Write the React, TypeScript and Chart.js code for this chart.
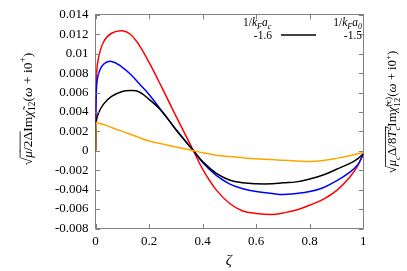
import React, { useEffect, useRef } from "react";
import { Chart, registerables } from "chart.js";

Chart.register(...registerables);

const ZETA = [0, 0.003, 0.01, 0.03, 0.06, 0.1, 0.13, 0.16, 0.2, 0.25, 0.3, 0.366, 0.4, 0.45, 0.5, 0.55, 0.6, 0.66, 0.7, 0.75, 0.8, 0.85, 0.9, 0.95, 0.98, 1];
const RED = [0, 0.0072, 0.0094, 0.0112, 0.0121, 0.01235, 0.012, 0.011, 0.0091, 0.0064, 0.0036, 0, -0.0019, -0.004, -0.0054, -0.0062, -0.00645, -0.00655, -0.0064, -0.0061, -0.0056, -0.005, -0.0041, -0.0027, -0.0015, -0.0003];
const BLUE = [0, 0.006, 0.0078, 0.0089, 0.0092, 0.0086, 0.0079, 0.007, 0.0058, 0.004, 0.0022, 0, -0.0012, -0.0025, -0.0034, -0.0039, -0.0042, -0.0044, -0.0045, -0.0044, -0.0042, -0.0038, -0.0031, -0.0022, -0.0014, -0.0003];
const BLACK = [0, 0.003, 0.0038, 0.0048, 0.0056, 0.0061, 0.0062, 0.0061, 0.0053, 0.004, 0.0022, 0, -0.0011, -0.0023, -0.003, -0.0033, -0.0034, -0.0034, -0.0033, -0.0032, -0.0029, -0.0025, -0.0019, -0.0013, -0.0008, -0.0003];
const ORANGE = [0, 0.0029, 0.00285, 0.0027, 0.0024, 0.002, 0.0017, 0.0014, 0.001, 0.0007, 0.0004, 0, -0.0002, -0.00045, -0.0006, -0.00072, -0.00082, -0.0009, -0.00098, -0.00105, -0.0011, -0.001, -0.00078, -0.0005, -0.0003, -0.0002];

const X_TICKS = [0, 0.2, 0.4, 0.6, 0.8, 1];
const Y_TICKS = [0.014, 0.012, 0.01, 0.008, 0.006, 0.004, 0.002, 0, -0.002, -0.004, -0.006, -0.008];

const LEGEND_HEAD_C = "1/k_Fa_c";
const LEGEND_HEAD_0 = "1/k_Fa_0";
const LEGEND_VAL_C = "-1.6";
const LEGEND_VAL_0 = "-1.5";

const FAMILY = "'Liberation Serif', 'DejaVu Serif', serif";

type Seg = { t: string; it?: boolean; sc?: number; dy?: number; over?: boolean; noAdv?: boolean };

function segWidth(ctx: CanvasRenderingContext2D, s: Seg, base: number) {
  const size = base * (s.sc ?? 1);
  ctx.font = `${s.it ? "italic " : ""}${size}px ${FAMILY}`;
  return ctx.measureText(s.t).width;
}

function totalWidth(ctx: CanvasRenderingContext2D, segs: Seg[], base: number) {
  let w = 0;
  for (const s of segs) if (!s.noAdv) w += segWidth(ctx, s, base);
  return w;
}

function drawRich(ctx: CanvasRenderingContext2D, segs: Seg[], x0: number, y0: number, base: number, color: string) {
  let x = x0;
  ctx.fillStyle = color;
  ctx.strokeStyle = color;
  ctx.textAlign = "left";
  ctx.textBaseline = "alphabetic";
  for (const s of segs) {
    const size = base * (s.sc ?? 1);
    ctx.font = `${s.it ? "italic " : ""}${size}px ${FAMILY}`;
    const w = ctx.measureText(s.t).width;
    ctx.fillText(s.t, x, y0 + (s.dy ?? 0) * base);
    if (s.over) {
      ctx.lineWidth = 0.8;
      ctx.beginPath();
      ctx.moveTo(x - 0.5, y0 - base * 0.86);
      ctx.lineTo(x + w + 0.5, y0 - base * 0.86);
      ctx.stroke();
    }
    if (!s.noAdv) x += w;
  }
}

function drawRotated(ctx: CanvasRenderingContext2D, segs: Seg[], cx: number, cy: number, base: number) {
  ctx.save();
  ctx.translate(cx, cy);
  ctx.rotate(-Math.PI / 2);
  const w = totalWidth(ctx, segs, base);
  drawRich(ctx, segs, -w / 2, base * 0.35, base, "#000");
  ctx.restore();
}

const LEFT_TITLE: Seg[] = [
  { t: "√" },
  { t: "μ", it: true, over: true },
  { t: "/2Δ", over: true },
  { t: "Im" },
  { t: "χ\u0303", it: true },
  { t: "12", sc: 0.7, dy: 0.25 },
  { t: "(" },
  { t: "ω", it: true },
  { t: " + i0" },
  { t: "+", sc: 0.7, dy: -0.4 },
  { t: ")" },
];

const RIGHT_TITLE: Seg[] = [
  { t: "√" },
  { t: "μ", it: true, over: true },
  { t: "c", it: true, sc: 0.7, dy: 0.25, over: true },
  { t: "Δ/8", over: true },
  { t: "T", it: true, over: true },
  { t: "2", sc: 0.7, dy: -0.4, noAdv: true },
  { t: "c", it: true, sc: 0.7, dy: 0.25, over: true },
  { t: "Im" },
  { t: "χ\u0303", it: true },
  { t: "12", sc: 0.7, dy: 0.25, noAdv: true },
  { t: "(c)", sc: 0.7, dy: -0.45 },
  { t: "(" },
  { t: "ω", it: true },
  { t: " + i0" },
  { t: "+", sc: 0.7, dy: -0.4 },
  { t: ")" },
];

function headSegs(label: string): Seg[] {
  const sub2 = label.split("_")[2];
  return [
    { t: "1/" },
    { t: "k", it: true },
    { t: "F", it: true, sc: 0.7, dy: 0.25 },
    { t: "a", it: true },
    { t: sub2, it: true, sc: 0.7, dy: 0.25 },
  ];
}

const decorPlugin = {
  id: "decor",
  afterDraw(chart: any) {
    const ctx: CanvasRenderingContext2D = chart.ctx;
    const a = chart.chartArea;
    const xs = chart.scales.x;
    const ys = chart.scales.y;
    ctx.save();
    ctx.strokeStyle = "#808080";
    ctx.lineWidth = 1;
    const tl = 4.5;
    ctx.beginPath();
    for (const v of X_TICKS) {
      const px = Math.round(xs.getPixelForValue(v)) + 0.5;
      ctx.moveTo(px, a.bottom);
      ctx.lineTo(px, a.bottom - tl);
      ctx.moveTo(px, a.top);
      ctx.lineTo(px, a.top + tl);
    }
    for (const v of Y_TICKS) {
      const py = Math.round(ys.getPixelForValue(v)) + 0.5;
      ctx.moveTo(a.left, py);
      ctx.lineTo(a.left + tl, py);
      ctx.moveTo(a.right, py);
      ctx.lineTo(a.right - tl, py);
    }
    ctx.stroke();

    drawRotated(ctx, LEFT_TITLE, 27, 109, 13.5);
    drawRotated(ctx, RIGHT_TITLE, 392, 112, 12.8);

    ctx.fillStyle = "#000";
    ctx.font = `italic 15px ${FAMILY}`;
    ctx.textAlign = "center";
    ctx.textBaseline = "middle";
    ctx.fillText("ζ", (a.left + a.right) / 2 - 0.5, 261);

    const lf = 11.5;
    const hc = headSegs(LEGEND_HEAD_C);
    const h0 = headSegs(LEGEND_HEAD_0);
    drawRich(ctx, hc, 243, 26, lf, "#000");
    const w0 = totalWidth(ctx, h0, lf);
    drawRich(ctx, h0, 362 - w0, 26, lf, "#000");
    ctx.font = `${lf}px ${FAMILY}`;
    ctx.textAlign = "right";
    ctx.textBaseline = "alphabetic";
    ctx.fillStyle = "#000";
    ctx.fillText(LEGEND_VAL_C, 272, 39);
    ctx.fillText(LEGEND_VAL_0, 362, 39);
    ctx.strokeStyle = "#000";
    ctx.lineWidth = 1.5;
    ctx.beginPath();
    ctx.moveTo(281, 35);
    ctx.lineTo(316, 35);
    ctx.stroke();
    ctx.restore();
  },
};

function fmt(v: number) {
  return String(Number(Number(v).toFixed(4)));
}

export default function App() {
  const ref = useRef<HTMLCanvasElement | null>(null);
  useEffect(() => {
    document.body.style.margin = "0";
    if (!ref.current) return;
    const mk = (vals: number[], color: string) => ({
      data: ZETA.map((x, i) => ({ x, y: vals[i] })),
      borderColor: color,
      backgroundColor: color,
      borderWidth: 1.5,
      pointRadius: 0,
      tension: 0.4,
      fill: false,
    });
    const chart = new Chart(ref.current, {
      type: "line",
      data: {
        datasets: [mk(ORANGE, "#ffa500"), mk(BLACK, "#000000"), mk(BLUE, "#0000ff"), mk(RED, "#ff0000")],
      },
      plugins: [decorPlugin],
      options: {
        animation: false,
        responsive: false,
        layout: { padding: 0 },
        plugins: { legend: { display: false }, tooltip: { enabled: false } },
        scales: {
          x: {
            type: "linear",
            position: "bottom",
            min: 0,
            max: 1,
            afterBuildTicks: (s: any) => { s.ticks = X_TICKS.map((v) => ({ value: v })); },
            afterFit: (s: any) => { s.height = 42.5; },
            ticks: { callback: (v: any) => fmt(v), color: "#000", font: { family: FAMILY, size: 13 }, padding: 5, maxRotation: 0 },
            grid: { drawOnChartArea: false, drawTicks: false },
            border: { display: true, color: "#808080", width: 1 },
          },
          x2: {
            type: "linear",
            position: "top",
            min: 0,
            max: 1,
            afterFit: (s: any) => { s.height = 13.3; },
            ticks: { display: false },
            grid: { drawOnChartArea: false, drawTicks: false },
            border: { display: true, color: "#808080", width: 1 },
          },
          y: {
            type: "linear",
            position: "left",
            min: -0.008,
            max: 0.014,
            afterBuildTicks: (s: any) => { s.ticks = Y_TICKS.map((v) => ({ value: v })); },
            afterFit: (s: any) => { s.width = 95.5; },
            ticks: { callback: (v: any) => fmt(v), color: "#000", font: { family: FAMILY, size: 13 }, padding: 7 },
            grid: { drawOnChartArea: false, drawTicks: false },
            border: { display: true, color: "#808080", width: 1 },
          },
          y2: {
            type: "linear",
            position: "right",
            min: -0.008,
            max: 0.014,
            afterFit: (s: any) => { s.width = 43.7; },
            ticks: { display: false },
            grid: { drawOnChartArea: false, drawTicks: false },
            border: { display: true, color: "#808080", width: 1 },
          },
        },
      } as any,
    });
    return () => chart.destroy();
  }, []);
  return (
    <div style={{ position: "absolute", left: 0, top: 0, width: 407, height: 271 }}>
      <canvas ref={ref} width={407} height={271} style={{ width: 407, height: 271, display: "block" }} />
    </div>
  );
}
